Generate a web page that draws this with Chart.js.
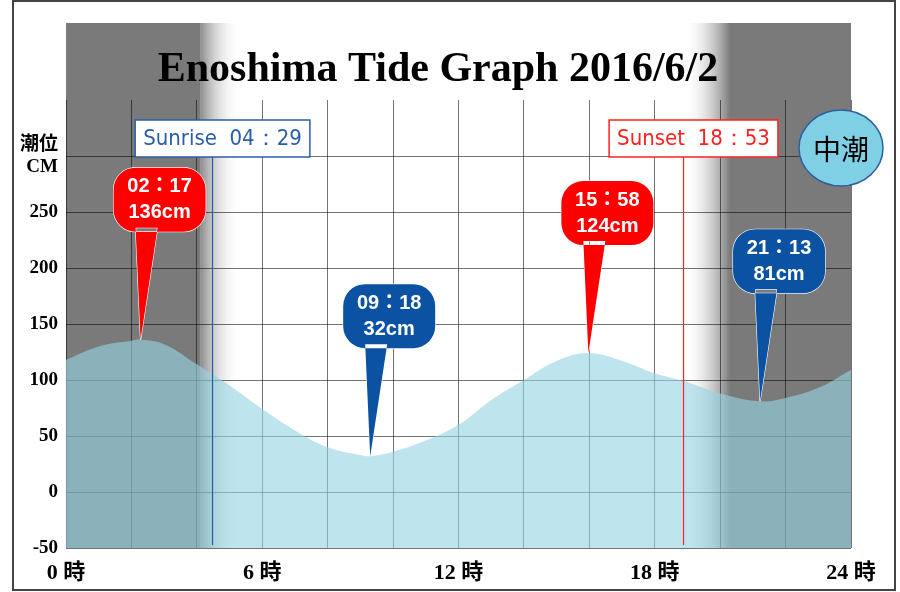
<!DOCTYPE html>
<html><head><meta charset="utf-8">
<script src="https://cdn.jsdelivr.net/npm/chart.js@4/dist/chart.umd.min.js"></script>
<style>html,body{margin:0;padding:0;background:#fff}#w{width:900px;height:592px}</style>
</head><body><div id="w"><canvas id="c"></canvas></div>
<script>
const hours  = [0,1,2,2.28,3,4,5,6,7,8,9,9.3,10,11,12,13,14,15,15.97,17,18,19,20,21.22,22,23,24];
const levels = [118,130,135,136,132,114,95,74,55,40,33,32,36,46,60,82,100,117,124,117,106,98,88,81,84,93,109];
const extTimes  = [2.28,9.3,15.97,21.22];
const extLevels = [136,32,124,81];
const extLabels = [["02：17","136cm"],["09：18","32cm"],["15：58","124cm"],["21：13","81cm"]];
const extColors = ["#ff0000","#0b52a3","#ff0000","#0b52a3"];
const sunriseH = 4.48, sunsetH = 18.88;
const sunLabels = ["Sunrise  04：29","Sunset  18：53"];
const titleText = "Enoshima Tide Graph 2016/6/2";
const tideName = "中潮";
const serif = "'Liberation Serif','Noto Sans CJK JP',serif";
const narrow = "'Liberation Sans Narrow','DejaVu Sans Condensed','Noto Sans',sans-serif";

const deco = {
  id:'deco',
  beforeDraw(ch){
    const c=ch.ctx, a=ch.chartArea, x=ch.scales.x;
    const top=a.top-77;
    c.save();
    c.strokeStyle='#444';c.lineWidth=2;c.strokeRect(13,1,882,589);
    const x0=a.left, x1=x.getPixelForValue(4.1), x2=x.getPixelForValue(5.3);
    c.fillStyle='#7a7a7a';c.fillRect(x0,top,x1-x0,a.bottom-top);
    let g=c.createLinearGradient(x1,0,x2,0);g.addColorStop(0,'#8a8a8a');g.addColorStop(1,'rgba(255,255,255,0)');
    c.fillStyle=g;c.fillRect(x1,top,x2-x1,a.bottom-top);
    const r1=x.getPixelForValue(sunsetH), r2=x.getPixelForValue(20.3);
    g=c.createLinearGradient(r1,0,r2,0);g.addColorStop(0,'rgba(255,255,255,0)');g.addColorStop(1,'#7a7a7a');
    c.fillStyle=g;c.fillRect(r1,top,r2-r1,a.bottom-top);
    c.fillStyle='#7a7a7a';c.fillRect(r2,top,a.right-r2,a.bottom-top);
    c.restore();
  },
  afterDraw(ch){
    const c=ch.ctx, a=ch.chartArea, x=ch.scales.x, y=ch.scales.y;
    c.save();
    c.fillStyle='#000';c.font="bold 42px "+serif;c.textAlign='center';c.textBaseline='middle';
    c.fillText(titleText,438,70,615);
    // sun lines
    [[sunriseH,'#2a5ea8',sunLabels[0]],[sunsetH,'#ff2020',sunLabels[1]]].forEach(([h,col,t])=>{
      const px=x.getPixelForValue(h);
      c.strokeStyle=col;c.lineWidth=1.2;c.beginPath();c.moveTo(px,157);c.lineTo(px,a.bottom-3);c.stroke();
      c.font="22px "+narrow;const w=c.measureText(t).width+16;
      const bx=px+10-w/2;
      c.fillStyle='#fff';c.fillRect(bx,120,w,37);c.strokeStyle=col;c.lineWidth=1.5;c.strokeRect(bx,120,w,37);
      c.fillStyle=col;c.textAlign='center';c.fillText(t,bx+w/2,139);
    });
    // balloons
    extTimes.forEach((t,i)=>{
      const tx=x.getPixelForValue(t), ty=y.getPixelForValue(extLevels[i]);
      const cx=tx+19, cy=ty-140, bw=92, bh=64;
      c.beginPath();
      c.roundRect(cx-bw/2,cy-bh/2,bw,bh,22);
      c.moveTo(cx-24,cy+bh/2-4);c.lineTo(tx,ty);c.lineTo(cx-2,cy+bh/2-4);c.closePath();
      c.fillStyle=extColors[i];c.strokeStyle='#fff';c.lineWidth=1.2;c.stroke();c.fill();
      c.fillStyle='#fff';c.font="bold 20px 'Liberation Sans','Noto Sans CJK JP',sans-serif";c.textAlign='center';
      c.fillText(extLabels[i][0],cx,cy-13);c.fillText(extLabels[i][1],cx,cy+13);
    });
    // tide name
    c.beginPath();c.ellipse(841,148,42,38,0,0,Math.PI*2);c.fillStyle='#7fd0e4';c.fill();c.strokeStyle='#2a60a0';c.lineWidth=1.5;c.stroke();
    c.fillStyle='#000';c.font="28px 'Noto Sans CJK JP',sans-serif";c.fillText(tideName,841,149);
    c.restore();
  }
};

new Chart(document.getElementById('c'),{
  type:'line',
  data:{datasets:[{data:hours.map((h,i)=>({x:h,y:levels[i]})),fill:'start',backgroundColor:'rgba(150,212,228,0.62)',borderWidth:0,pointRadius:0,tension:0.4}]},
  options:{
    responsive:true,maintainAspectRatio:false,animation:false,
    layout:{padding:{top:100,right:49,left:0,bottom:0}},
    plugins:{legend:{display:false},tooltip:{enabled:false}},
    scales:{
      x:{type:'linear',min:0,max:24,afterFit:s=>{s.height=44;},
        grid:{color:'rgba(0,0,0,0.55)',drawTicks:false},border:{display:false},
        ticks:{stepSize:2,padding:12,color:'#000',font:{family:serif,size:22,weight:'bold'},maxRotation:0,autoSkip:false,callback:v=>v%6===0?v+' 時':''}},
      y:{min:-50,max:350,afterFit:s=>{s.width=66;},
        grid:{color:c=>c.tick&&c.tick.value===350?'rgba(0,0,0,0)':'rgba(0,0,0,0.55)',drawTicks:false},border:{display:false},
        ticks:{stepSize:50,padding:8,color:'#000',font:{family:serif,size:19,weight:'bold'},callback:v=>v===350?'':(v===300?['潮位','CM']:v)}}
    }
  },
  plugins:[deco]
});
</script></body></html>
